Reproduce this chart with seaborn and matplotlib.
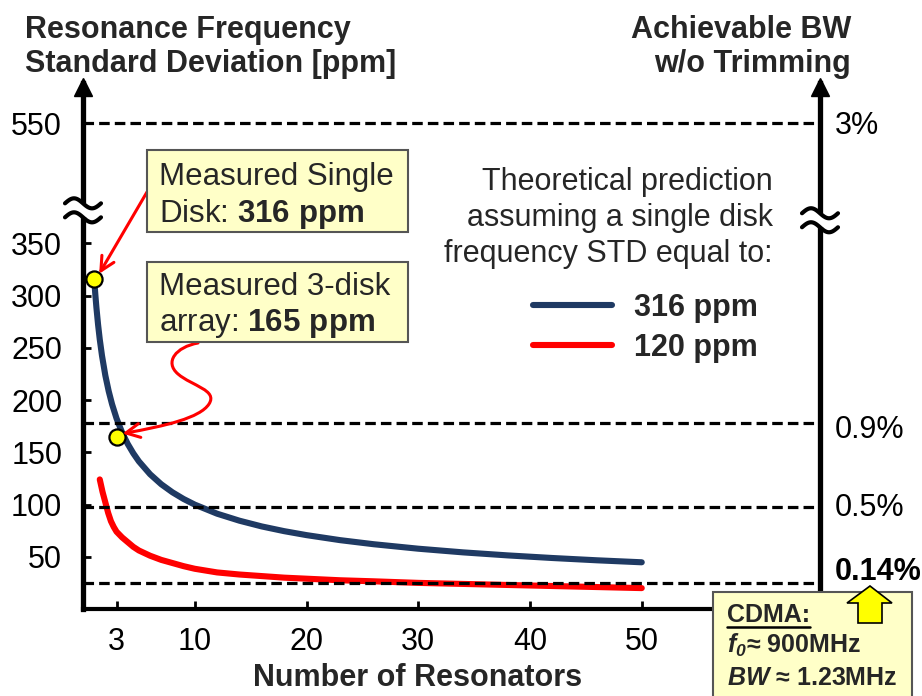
import numpy as np
import pandas as pd
import matplotlib
matplotlib.use("Agg")
import matplotlib.pyplot as plt
import seaborn as sns
from matplotlib.lines import Line2D
from matplotlib.patches import Rectangle, FancyArrowPatch, Polygon
from matplotlib.path import Path
from matplotlib.transforms import IdentityTransform, blended_transform_factory, offset_copy

# ---------------------------------------------------------------- data ----
# theoretical std of the array frequency vs. number of resonators
n_316 = [1, 1.1, 1.2, 1.35, 1.5, 1.7, 2, 2.3, 2.6, 3, 3.5, 4, 4.5, 5, 6, 7, 8, 9,
         10, 12, 14, 16, 18, 20, 23, 26, 30, 34, 38, 42, 46, 50]
std_316 = [316, 301.3, 288.5, 272.0, 258.0, 242.4, 223.4, 208.4, 196.0, 182.4,
           168.9, 158.0, 149.0, 141.3, 129.0, 119.4, 111.7, 105.3, 99.9, 91.2,
           84.5, 79.0, 74.5, 70.7, 65.9, 62.0, 57.7, 54.2, 51.3, 48.8, 46.6, 44.7]
n_120 = [1.5, 1.75, 2, 2.25, 2.5, 2.75, 3, 3.5, 4, 4.5, 5, 6, 7, 8, 9, 10, 12, 14,
         16, 18, 20, 23, 26, 30, 34, 38, 42, 46, 50]
std_120 = [124, 112, 102, 92, 84, 78.5, 74, 68.5, 64, 59.5, 56, 51, 47, 44, 41,
           38.5, 35, 33, 31.5, 30, 29, 27.5, 26.5, 25, 24, 23, 22, 21, 20]
series_labels = ["316 ppm", "120 ppm"]

# measured points
measured_n = [1, 3]
measured_std = [316, 165]

# bandwidth levels (ppm) and their labels on the right axis
bw_levels = [550, 178, 98, 25]
bw_labels = ["3%", "0.9%", "0.5%", "0.14%"]

x_ticks = [3, 10, 20, 30, 40, 50]
y_ticks = [50, 100, 150, 200, 250, 300, 350, 550]

# ---------------------------------------------------------------- style ---
sns.set_theme(style="white")
plt.rcParams["font.family"] = ["Liberation Sans", "DejaVu Sans"]
plt.rcParams["mathtext.fontset"] = "custom"
plt.rcParams["mathtext.rm"] = "Liberation Sans"
plt.rcParams["mathtext.bf"] = "Liberation Sans:bold"
plt.rcParams["mathtext.it"] = "Liberation Sans:italic:bold"
HAS_BFIT = "mathtext.bfit" in plt.rcParams
if HAS_BFIT:
    plt.rcParams["mathtext.bfit"] = "Liberation Sans:bold:italic"

BLUE = "#1F3A63"
RED = "#FF0000"
NOTE_FACE = "#FFFFC8"
NOTE_EDGE = "#555555"
FS = 22
FS_NOTE = 22.5

W, H = 922, 696
fig = plt.figure(figsize=(W / 100, H / 100), dpi=100)
fig.patch.set_facecolor("white")
ax = fig.add_axes([83 / W, 1 - 609 / H, (820 - 83) / W, (609 - 83) / H])
ax.set_facecolor("white")

# broken y axis: values above the break are squeezed
BREAK, SQUEEZE = 380.0, 0.5


def fwd(v):
    v = np.asarray(v, dtype=float)
    return np.where(v <= BREAK, v, BREAK + (v - BREAK) * SQUEEZE)


def inv(f):
    f = np.asarray(f, dtype=float)
    return np.where(f <= BREAK, f, BREAK + (f - BREAK) / SQUEEZE)


ax.set_yscale("function", functions=(fwd, inv))
ax.set_xlim(0, 737 / 11.175)
ax.set_ylim(0, 626.7)


def px(x, y):
    """image-style pixel position (origin top-left) -> display coords"""
    return (x, H - y)


# ---------------------------------------------------------------- curves --
df = pd.concat([
    pd.DataFrame({"N": n_316, "STD": std_316, "series": series_labels[0]}),
    pd.DataFrame({"N": n_120, "STD": std_120, "series": series_labels[1]}),
])
sns.lineplot(data=df, x="N", y="STD", hue="series",
             palette={series_labels[0]: BLUE, series_labels[1]: RED},
             linewidth=4.4, estimator=None, legend=False, ax=ax, zorder=2)
curve_lines = list(ax.lines)
for ln in curve_lines:
    ln.set_solid_capstyle("round")
    ln.set_solid_joinstyle("round")

for v in bw_levels:
    ax.axhline(v, color="black", lw=2.3, ls=(0, (3.3, 1.6)), zorder=3)

sns.scatterplot(x=measured_n, y=measured_std, s=135, color="#FFFF00",
                edgecolor="black", linewidth=1.6, zorder=6, ax=ax, legend=False)

# ---------------------------------------------------------------- axes ----
for side in ("left", "bottom", "right"):
    ax.spines[side].set_color("black")
ax.spines["left"].set_linewidth(3.8)
ax.spines["right"].set_linewidth(3.8)
ax.spines["bottom"].set_linewidth(3.0)
ax.spines["top"].set_visible(False)

ax.set_xticks(x_ticks)
ax.set_xticklabels([str(t) for t in x_ticks])
ax.set_yticks(y_ticks)
ax.set_yticklabels([str(t) for t in y_ticks])
ax.tick_params(axis="both", which="both", direction="in", length=6, width=2,
               colors="black", labelsize=FS, left=True, bottom=True,
               right=False, top=False)
ax.tick_params(axis="x", pad=13)
ax.tick_params(axis="y", pad=15)
ax.set_xlabel("")
ax.set_ylabel("")
ax.grid(False)

# arrow heads on the vertical axes
for xa in (0.0, 1.0):
    ax.plot([xa], [1.0], marker="^", ms=13, color="black", clip_on=False,
            transform=offset_copy(ax.transAxes, fig, y=-4, units="dots"), zorder=7)


# axis-break squiggles
def axis_break(xd, yd):
    t = np.linspace(0, 1, 80)
    fig.add_artist(Rectangle((xd - 5, yd - 7), 10, 14, facecolor="white",
                             edgecolor="none", transform=IdentityTransform(), zorder=5))
    for dy in (7, -7):
        xs = xd - 18 + 36 * t
        ys = yd + dy + 5 * np.sin(2 * np.pi * t)
        fig.add_artist(Line2D(xs, ys, color="black", lw=3.0, solid_capstyle="round",
                              transform=IdentityTransform(), zorder=6))


xl, yl = ax.transData.transform((0, 383))
axis_break(xl, yl)
xr = ax.transAxes.transform((1, 0))[0]
yr = ax.transData.transform((0, 372))[1]
axis_break(xr, yr)

# right-hand bandwidth labels
blend = blended_transform_factory(ax.transAxes, ax.transData)
label_dy = [-3, -7, -1, 11]
for v, lab, dy in zip(bw_levels, bw_labels, label_dy):
    ax.text(1.0, v, lab, transform=offset_copy(blend, fig, x=15, y=dy, units="dots"),
            ha="left", va="center", fontsize=FS,
            fontweight="bold" if lab == "0.14%" else "normal", color="black",
            clip_on=False)

# titles (anchored on the baseline of their last line)
fig.text(*px(25, 72), "Resonance Frequency\nStandard Deviation [ppm]",
         transform=IdentityTransform(), ha="left", va="baseline", fontsize=FS,
         fontweight="bold", linespacing=1.18, multialignment="left")
fig.text(*px(851, 72), "Achievable BW\nw/o Trimming", transform=IdentityTransform(),
         ha="right", va="baseline", fontsize=FS, fontweight="bold",
         linespacing=1.18, multialignment="right")
fig.text(*px(418, 686), "Number of Resonators", transform=IdentityTransform(),
         ha="center", va="baseline", fontsize=FS, fontweight="bold")

# legend block
fig.text(*px(773, 218), "Theoretical prediction\nassuming a single disk\nfrequency STD equal to:",
         transform=IdentityTransform(), ha="right", va="center", fontsize=FS,
         linespacing=1.25, multialignment="right")
ax.legend(handles=curve_lines[:2], labels=series_labels, loc="center left",
          bbox_to_anchor=(533 / W, 1 - 328 / H), bbox_transform=fig.transFigure,
          frameon=False, prop={"family": "Liberation Sans", "weight": "bold", "size": FS},
          handlelength=2.6, handletextpad=0.7, labelspacing=0.32, borderpad=0,
          borderaxespad=0)


# ---------------------------------------------------------------- notes ---
def note_box(x0, y0, x1, y1):
    fig.add_artist(Rectangle(px(x0, y1), x1 - x0, y1 - y0, facecolor=NOTE_FACE,
                             edgecolor=NOTE_EDGE, lw=1.5, transform=IdentityTransform(),
                             zorder=8))


note_box(147, 150, 408, 232)
fig.text(*px(159, 185), "Measured Single", transform=IdentityTransform(),
         fontsize=FS_NOTE, va="baseline", zorder=9)
fig.text(*px(159, 222), r"Disk: $\mathbf{316\ ppm}$", transform=IdentityTransform(),
         fontsize=FS_NOTE, va="baseline", zorder=9)

note_box(147, 262, 408, 342)
fig.text(*px(159, 295), "Measured 3-disk", transform=IdentityTransform(),
         fontsize=FS_NOTE, va="baseline", zorder=9)
fig.text(*px(159, 331), r"array: $\mathbf{165\ ppm}$", transform=IdentityTransform(),
         fontsize=FS_NOTE, va="baseline", zorder=9)

# red pointers to the measured points
p1 = ax.transData.transform((measured_n[0], measured_std[0]))
p2 = ax.transData.transform((measured_n[1], measured_std[1]))
arrow_kw = dict(arrowstyle="->,head_length=0.5,head_width=0.25", color=RED, lw=2.2,
                mutation_scale=20, transform=IdentityTransform(), zorder=7)
head1 = (p1[0] + 5, p1[1] + 5)
fig.add_artist(FancyArrowPatch(path=Path([px(147, 192), head1],
                                         [Path.MOVETO, Path.LINETO]), **arrow_kw))
head2 = (p2[0] + 6, p2[1] + 3)
verts = [px(198, 343), px(176, 347), px(164, 362), px(178, 374),
         px(192, 386), px(218, 390), px(209, 404),
         px(200, 418), px(165, 426), head2]
codes = [Path.MOVETO] + [Path.CURVE4] * 9
fig.add_artist(FancyArrowPatch(path=Path(verts, codes), **arrow_kw))

# CDMA box
fig.add_artist(Rectangle(px(713, 700), 912 - 713, 700 - 592, facecolor=NOTE_FACE,
                         edgecolor=NOTE_EDGE, lw=1.5, transform=IdentityTransform(),
                         zorder=8, clip_on=False))
FS2 = 18
cdma = fig.text(*px(727, 622), "CDMA:", transform=IdentityTransform(), fontsize=FS2,
                fontweight="bold", va="baseline", zorder=9)
fit = r"\mathbfit" if HAS_BFIT else r"\mathit"
fig.text(*px(727, 653), "$" + fit + r"{f_0}$≈ 900MHz", transform=IdentityTransform(),
         fontsize=FS2, fontweight="bold", va="baseline", zorder=9)
fig.text(*px(727, 685), "$" + fit + r"{BW}$ ≈ 1.23MHz", transform=IdentityTransform(),
         fontsize=FS2, fontweight="bold", va="baseline", zorder=9)
renderer = fig.canvas.get_renderer()
bb = cdma.get_window_extent(renderer)
fig.add_artist(Line2D([bb.x0, bb.x1], [H - 627, H - 627], color="black", lw=1.8,
                      transform=IdentityTransform(), zorder=9))

# yellow pointer to 0.14 %
arrow_pts = [px(870, 586), px(892, 603), px(882, 603), px(882, 623), px(858, 623),
             px(858, 603), px(847, 603)]
fig.add_artist(Polygon(arrow_pts, closed=True, facecolor="#FFFF00", edgecolor="black",
                       lw=1.2, transform=IdentityTransform(), zorder=9))

fig.savefig("out.png", dpi=100, facecolor="white")
